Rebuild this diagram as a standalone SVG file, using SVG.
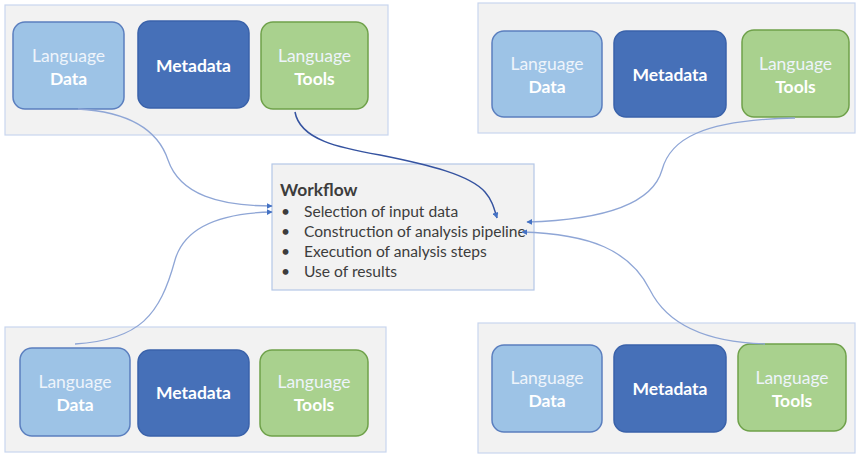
<svg xmlns="http://www.w3.org/2000/svg" width="858" height="457" viewBox="0 0 858 457">
  <style>
    .panel { fill: #f2f2f2; stroke: #c9d6ee; stroke-width: 1.2; }
    .data { fill: #9dc3e6; stroke: #5b7fbf; stroke-width: 1.5; }
    .meta { fill: #4670b8; stroke: #3a62aa; stroke-width: 1.5; }
    .tools { fill: #a9d18e; stroke: #6fa14a; stroke-width: 1.5; }
    .lbl { font-family: Lato, "Open Sans", sans-serif; font-size: 17.5px; text-anchor: middle; }
    .light { fill: #eef4fb; }
    .bold { font-weight: bold; fill: #ffffff; }
    .wf { fill: #f2f2f2; stroke: #b4c7e7; stroke-width: 1.2; }
    .wft { font-family: Lato, "Open Sans", sans-serif; font-size: 15.6px; fill: #3d3d3d; }
    .wfh { font-family: Lato, "Open Sans", sans-serif; font-size: 17.4px; font-weight: bold; fill: #3d3d3d; }
    .link { fill: none; stroke: #8fa6d6; stroke-width: 1.3; }
    .dark { fill: none; stroke: #3553a0; stroke-width: 1.5; }
  </style>
  <defs>
    <marker id="arr" viewBox="0 0 10 10" refX="9" refY="5" markerWidth="6" markerHeight="6" orient="auto" markerUnits="userSpaceOnUse">
      <path d="M0,0 L10,5 L0,10 z" fill="#4472c4"/>
    </marker>
  </defs>

  <!-- panel top left -->
  <g id="panel-tl">
    <rect class="panel" x="5" y="5" width="383" height="130"/>
    <g id="tl-data">
      <rect class="data" x="13" y="22" width="111" height="87" rx="12"/>
      <text class="lbl light" x="68.5" y="62">Language</text>
      <text class="lbl bold" x="68.5" y="85">Data</text>
    </g>
    <g id="tl-meta">
      <rect class="meta" x="138" y="21" width="111" height="87" rx="12"/>
      <text class="lbl bold" x="193.5" y="72">Metadata</text>
    </g>
    <g id="tl-tools">
      <rect class="tools" x="261" y="22" width="107" height="87" rx="12"/>
      <text class="lbl light" x="314.5" y="62">Language</text>
      <text class="lbl bold" x="314.5" y="85">Tools</text>
    </g>
  </g>

  <!-- panel top right -->
  <g id="panel-tr">
    <rect class="panel" x="478" y="3" width="377" height="130"/>
    <g id="tr-data">
      <rect class="data" x="492" y="31" width="110" height="86" rx="12"/>
      <text class="lbl light" x="547" y="70">Language</text>
      <text class="lbl bold" x="547" y="93">Data</text>
    </g>
    <g id="tr-meta">
      <rect class="meta" x="614" y="31" width="112" height="86" rx="12"/>
      <text class="lbl bold" x="670" y="81">Metadata</text>
    </g>
    <g id="tr-tools">
      <rect class="tools" x="742" y="30" width="107" height="87" rx="12"/>
      <text class="lbl light" x="795.5" y="70">Language</text>
      <text class="lbl bold" x="795.5" y="93">Tools</text>
    </g>
  </g>

  <!-- panel bottom left -->
  <g id="panel-bl">
    <rect class="panel" x="5" y="327" width="381" height="125"/>
    <g id="bl-data">
      <rect class="data" x="20" y="348" width="110" height="88" rx="12"/>
      <text class="lbl light" x="75" y="388">Language</text>
      <text class="lbl bold" x="75" y="411">Data</text>
    </g>
    <g id="bl-meta">
      <rect class="meta" x="138" y="350" width="111" height="86" rx="12"/>
      <text class="lbl bold" x="193.5" y="399">Metadata</text>
    </g>
    <g id="bl-tools">
      <rect class="tools" x="260" y="350" width="108" height="86" rx="12"/>
      <text class="lbl light" x="314" y="388">Language</text>
      <text class="lbl bold" x="314" y="411">Tools</text>
    </g>
  </g>

  <!-- panel bottom right -->
  <g id="panel-br">
    <rect class="panel" x="478" y="323" width="377" height="130"/>
    <g id="br-data">
      <rect class="data" x="492" y="345" width="110" height="87" rx="12"/>
      <text class="lbl light" x="547" y="384">Language</text>
      <text class="lbl bold" x="547" y="407">Data</text>
    </g>
    <g id="br-meta">
      <rect class="meta" x="614" y="345" width="112" height="87" rx="12"/>
      <text class="lbl bold" x="670" y="395">Metadata</text>
    </g>
    <g id="br-tools">
      <rect class="tools" x="738" y="344" width="108" height="87" rx="12"/>
      <text class="lbl light" x="792" y="384">Language</text>
      <text class="lbl bold" x="792" y="407">Tools</text>
    </g>
  </g>

  <!-- central workflow box -->
  <g id="workflow">
    <rect class="wf" x="272" y="164" width="262" height="126"/>
    <text class="wfh" x="280" y="196">Workflow</text>
    <g class="wft">
      <text x="281" y="217">•</text><text x="304" y="217">Selection of input data</text>
      <text x="281" y="237">•</text><text x="304" y="237">Construction of analysis pipeline</text>
      <text x="281" y="257">•</text><text x="304" y="257">Execution of analysis steps</text>
      <text x="281" y="277">•</text><text x="304" y="277">Use of results</text>
    </g>
  </g>

  <!-- connectors -->
  <g id="connectors">
    <path class="link" d="M78,109 C130,112 158,130 168,160 C180,195 220,206 272,206" marker-end="url(#arr)"/>
    <path class="link" d="M75,344 C140,340 160,315 175,260 C185,225 225,213 272,212" marker-end="url(#arr)"/>
    <path class="dark" d="M295,112 C300,140 340,148 380,155 C430,165 470,175 485,192 C492,200 494,208 497,218" marker-end="url(#arr)"/>
    <path class="link" d="M795,118 C700,120 670,140 662,170 C652,205 600,220 527,222" marker-end="url(#arr)"/>
    <path class="link" d="M765,344 C700,342 665,320 650,290 C630,250 590,234 522,232" marker-end="url(#arr)"/>
  </g>
</svg>
